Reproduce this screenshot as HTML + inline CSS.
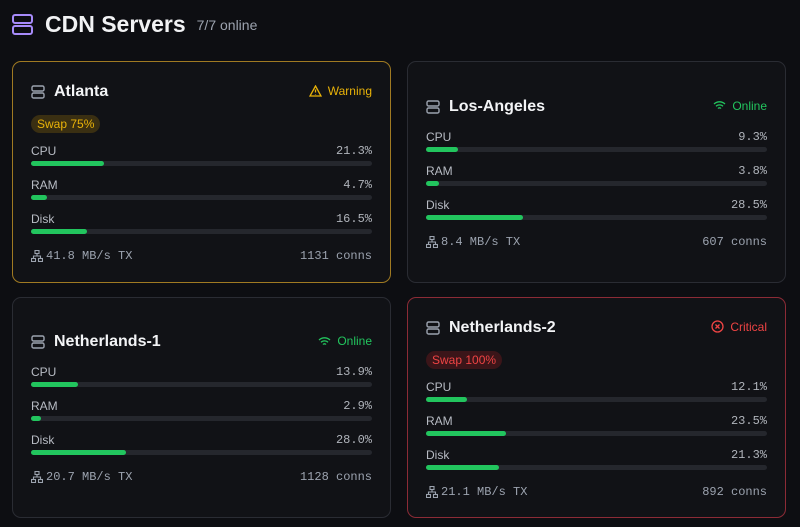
<!DOCTYPE html>
<html><head><style>
*{box-sizing:border-box;margin:0;padding:0}
body{width:800px;height:527px;background:#0d0e12;font-family:"Liberation Sans",sans-serif;color:#e5e7eb;position:relative;overflow:hidden}
.hdr{position:absolute;left:12px;top:10px;height:28px;display:flex;align-items:center}
.hdr h1{font-size:23px;font-weight:700;color:#f1f2f4;margin-left:12px}
.hdr span{font-size:14px;color:#9ca3af;margin-left:11px;margin-top:2px}
.card{position:absolute;width:379px;border:1px solid #2a2c33;border-radius:9px;background:#111216;display:flex;flex-direction:column;justify-content:center;padding:0 18px}
.warn{border-color:#a07a22}
.crit{border-color:#8c2b36}
.top{display:flex;justify-content:space-between;align-items:center;height:20px}
.name{display:flex;align-items:center;font-size:16px;line-height:20px;font-weight:700;color:#f3f4f6;margin-top:2px}
.name svg{margin-right:9px}
.st{font-size:12px;display:flex;align-items:center;gap:6px}
.pill{display:inline-block;font-size:12px;padding:2px 6px;border-radius:9px;margin-top:14px;align-self:flex-start}
.row{display:flex;justify-content:space-between;font-size:12px;color:#b8bcc4;margin-top:12px;height:14px}
.top + .row{margin-top:14px}
.pill + .row{margin-top:11px}
.row b{font-weight:400;font-family:"Liberation Mono",monospace;color:#b0b4bb}
.bar{height:5px;background:#25272d;border-radius:3px;margin-top:3px}
.bar i{display:block;height:5px;background:#22c55e;border-radius:3px}
.foot{display:flex;justify-content:space-between;font-family:"Liberation Mono",monospace;font-size:12px;color:#9ca3af;margin-top:15px;align-items:center}
.foot span{display:flex;align-items:center;gap:3px}
</style></head><body>
<div class="hdr">
<svg width="21" height="21" viewBox="0 0 21 21" fill="none" stroke="#a78bfa" stroke-width="2"><rect x="1" y="1" width="19" height="8" rx="2"/><rect x="1" y="12" width="19" height="8" rx="2"/></svg>
<h1>CDN Servers</h1><span>7/7 online</span></div>

<div class="card warn" style="left:12px;top:61px;height:222px">
<div class="top"><div class="name"><svg width="14" height="14" viewBox="0 0 14 14" fill="none" stroke="#9ca3af" stroke-width="1.4"><rect x="1" y="1" width="12" height="5" rx="1.5"/><rect x="1" y="8" width="12" height="5" rx="1.5"/></svg>Atlanta</div>
<div class="st" style="color:#eab308"><svg width="13" height="12" viewBox="0 0 13 12" fill="none" stroke="#eab308" stroke-width="1.3"><path d="M6.5 1 L12 11 H1 Z"/><path d="M6.5 4.5V7.5M6.5 9v.5"/></svg>Warning</div></div>
<div class="pill" style="background:#3a2f12;color:#eab308">Swap 75%</div>
<div class="row">CPU<b>21.3%</b></div><div class="bar"><i style="width:21.3%"></i></div>
<div class="row">RAM<b>4.7%</b></div><div class="bar"><i style="width:4.7%"></i></div>
<div class="row">Disk<b>16.5%</b></div><div class="bar"><i style="width:16.5%"></i></div>
<div class="foot"><span><svg width="12" height="12" viewBox="0 0 12 12" fill="none" stroke="#9ca3af" stroke-width="1.1"><rect x="4" y="0.5" width="4" height="3"/><rect x="0.5" y="8.5" width="4" height="3"/><rect x="7.5" y="8.5" width="4" height="3"/><path d="M6 3.5V6M2.5 8.5V6H9.5V8.5"/></svg>41.8 MB/s TX</span><span>1131 conns</span></div>
</div>

<div class="card" style="left:407px;top:61px;height:222px">
<div class="top"><div class="name"><svg width="14" height="14" viewBox="0 0 14 14" fill="none" stroke="#9ca3af" stroke-width="1.4"><rect x="1" y="1" width="12" height="5" rx="1.5"/><rect x="1" y="8" width="12" height="5" rx="1.5"/></svg>Los-Angeles</div>
<div class="st" style="color:#22c55e"><svg width="13" height="11" viewBox="0 0 13 11" fill="none" stroke="#22c55e" stroke-width="1.3"><path d="M1 4a8 8 0 0 1 11 0M3 6.3a5 5 0 0 1 7 0M5 8.5a2 2 0 0 1 3 0"/></svg>Online</div></div>
<div class="row">CPU<b>9.3%</b></div><div class="bar"><i style="width:9.3%"></i></div>
<div class="row">RAM<b>3.8%</b></div><div class="bar"><i style="width:3.8%"></i></div>
<div class="row">Disk<b>28.5%</b></div><div class="bar"><i style="width:28.5%"></i></div>
<div class="foot"><span><svg width="12" height="12" viewBox="0 0 12 12" fill="none" stroke="#9ca3af" stroke-width="1.1"><rect x="4" y="0.5" width="4" height="3"/><rect x="0.5" y="8.5" width="4" height="3"/><rect x="7.5" y="8.5" width="4" height="3"/><path d="M6 3.5V6M2.5 8.5V6H9.5V8.5"/></svg>8.4 MB/s TX</span><span>607 conns</span></div>
</div>

<div class="card" style="left:12px;top:297px;height:221px">
<div class="top"><div class="name"><svg width="14" height="14" viewBox="0 0 14 14" fill="none" stroke="#9ca3af" stroke-width="1.4"><rect x="1" y="1" width="12" height="5" rx="1.5"/><rect x="1" y="8" width="12" height="5" rx="1.5"/></svg>Netherlands-1</div>
<div class="st" style="color:#22c55e"><svg width="13" height="11" viewBox="0 0 13 11" fill="none" stroke="#22c55e" stroke-width="1.3"><path d="M1 4a8 8 0 0 1 11 0M3 6.3a5 5 0 0 1 7 0M5 8.5a2 2 0 0 1 3 0"/></svg>Online</div></div>
<div class="row">CPU<b>13.9%</b></div><div class="bar"><i style="width:13.9%"></i></div>
<div class="row">RAM<b>2.9%</b></div><div class="bar"><i style="width:2.9%"></i></div>
<div class="row">Disk<b>28.0%</b></div><div class="bar"><i style="width:28%"></i></div>
<div class="foot"><span><svg width="12" height="12" viewBox="0 0 12 12" fill="none" stroke="#9ca3af" stroke-width="1.1"><rect x="4" y="0.5" width="4" height="3"/><rect x="0.5" y="8.5" width="4" height="3"/><rect x="7.5" y="8.5" width="4" height="3"/><path d="M6 3.5V6M2.5 8.5V6H9.5V8.5"/></svg>20.7 MB/s TX</span><span>1128 conns</span></div>
</div>

<div class="card crit" style="left:407px;top:297px;height:221px">
<div class="top"><div class="name"><svg width="14" height="14" viewBox="0 0 14 14" fill="none" stroke="#9ca3af" stroke-width="1.4"><rect x="1" y="1" width="12" height="5" rx="1.5"/><rect x="1" y="8" width="12" height="5" rx="1.5"/></svg>Netherlands-2</div>
<div class="st" style="color:#ef4444"><svg width="13" height="13" viewBox="0 0 13 13" fill="none" stroke="#ef4444" stroke-width="1.3"><circle cx="6.5" cy="6.5" r="5.5"/><path d="M4.5 4.5l4 4M8.5 4.5l-4 4"/></svg>Critical</div></div>
<div class="pill" style="background:#3b1519;color:#ef4444">Swap 100%</div>
<div class="row">CPU<b>12.1%</b></div><div class="bar"><i style="width:12.1%"></i></div>
<div class="row">RAM<b>23.5%</b></div><div class="bar"><i style="width:23.5%"></i></div>
<div class="row">Disk<b>21.3%</b></div><div class="bar"><i style="width:21.3%"></i></div>
<div class="foot"><span><svg width="12" height="12" viewBox="0 0 12 12" fill="none" stroke="#9ca3af" stroke-width="1.1"><rect x="4" y="0.5" width="4" height="3"/><rect x="0.5" y="8.5" width="4" height="3"/><rect x="7.5" y="8.5" width="4" height="3"/><path d="M6 3.5V6M2.5 8.5V6H9.5V8.5"/></svg>21.1 MB/s TX</span><span>892 conns</span></div>
</div>
</body></html>
